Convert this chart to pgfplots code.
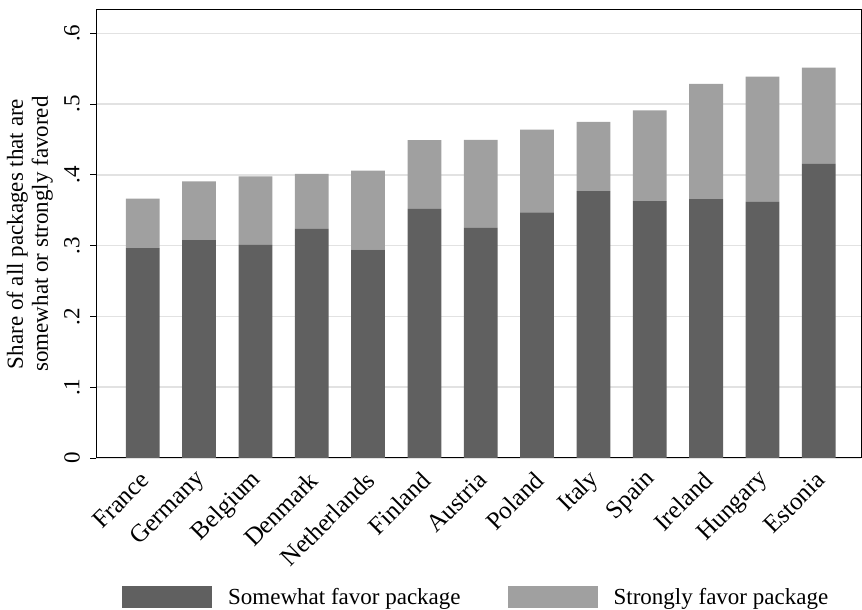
\documentclass[border=0pt]{standalone}
\usepackage{pgfplots}
\pgfplotsset{compat=1.18}
\usepackage{fontspec}
\setmainfont{Liberation Serif}
\definecolor{darkbar}{HTML}{606060}
\definecolor{lightbar}{HTML}{A0A0A0}
\definecolor{gridc}{HTML}{E2E2E2}
\begin{document}
\begin{tikzpicture}[x=1bp,y=1bp]
\useasboundingbox (0,0) rectangle (862,610);
\begin{axis}[
  at={(96bp,152bp)}, anchor=south west,
  scale only axis,
  width=765bp, height=448bp,
  ybar stacked,
  bar width=0.6,
  xmin=-0.83, xmax=12.75,
  ymin=0, ymax=0.633,
  xtick={0,...,12},
  xticklabels={France,Germany,Belgium,Denmark,Netherlands,Finland,Austria,Poland,Italy,Spain,Ireland,Hungary,Estonia},
  ytick={0,0.1,0.2,0.3,0.4,0.5,0.6},
  yticklabels={0,.1,.2,.3,.4,.5,.6},
  ytick pos=left,
  major x tick style={draw=none},
  tick align=outside,
  major tick length=6bp,
  ytick style={black, line width=0.8bp},
  ymajorgrids,
  grid style={gridc, line width=1.5bp},
  axis line style={black, line width=1bp},
  font=\fontsize{23bp}{26bp}\selectfont,
  /pgf/number format/assume math mode=true,
  yticklabel style={rotate=90, anchor=south, inner sep=2bp, yshift=8bp},
  xticklabel style={rotate=45, anchor=east, inner sep=0pt, yshift=-10bp, xshift=-7bp, font=\fontsize{25bp}{28bp}\selectfont},
  ylabel={Share of all packages that are\\somewhat or strongly favored},
  ylabel style={at={(axis description cs:-0.0865,0.5)}, anchor=center, align=center, font=\fontsize{23bp}{25bp}\selectfont},
  legend columns=2,
  legend style={at={(axis description cs:0.497,-0.31)}, anchor=center, draw=none,
    /tikz/every odd column/.append style={column sep=14bp},
    /tikz/every even column/.append style={column sep=45bp},
    font=\fontsize{23bp}{26bp}\selectfont},
  legend image code/.code={\fill[#1] (0bp,-11bp) rectangle (90bp,11bp);},
]
\addplot[fill=darkbar, draw=none] coordinates {
(0,0.2965) (1,0.3078) (2,0.301) (3,0.3237) (4,0.2945) (5,0.352) (6,0.325)
(7,0.347) (8,0.377) (9,0.3628) (10,0.3656) (11,0.362) (12,0.4155)};
\addplot[fill=lightbar, draw=none] coordinates {
(0,0.0700) (1,0.0832) (2,0.0970) (3,0.0777) (4,0.1115) (5,0.0970) (6,0.1244)
(7,0.1170) (8,0.0980) (9,0.1282) (10,0.1629) (11,0.1770) (12,0.1360)};
\legend{Somewhat favor package, Strongly favor package}
\end{axis}
\end{tikzpicture}
\end{document}
